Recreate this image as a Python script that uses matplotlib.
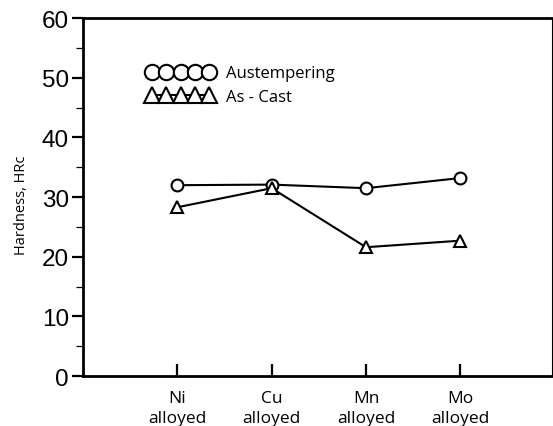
import matplotlib
matplotlib.use("Agg")
import matplotlib.pyplot as plt
from matplotlib.ticker import MultipleLocator

categories = ["Ni\nalloyed", "Cu\nalloyed", "Mn\nalloyed", "Mo\nalloyed"]
austempering = [32.0, 32.1, 31.5, 33.2]
as_cast = [28.3, 31.5, 21.6, 22.7]

fig = plt.figure(figsize=(5.53, 4.27), dpi=100)
ax = fig.add_axes([0.150, 0.117, 0.848, 0.838])

x = list(range(1, len(categories) + 1))
ax.plot(x, austempering, color="black", lw=1.5, marker="o", ms=8.5,
        mfc="white", mec="black", mew=1.5, label="Austempering")
ax.plot(x, as_cast, color="black", lw=1.5, marker="^", ms=9,
        mfc="white", mec="black", mew=1.5, label="As - Cast")

ax.set_xlim(0, 4.97)
ax.set_ylim(0, 60)
ax.set_xticks(x)
ax.set_xticklabels(categories, fontfamily="Open Sans", fontsize=12.5,
                   linespacing=1.35)
ax.yaxis.set_major_locator(MultipleLocator(10))
ax.yaxis.set_minor_locator(MultipleLocator(5))
for lab in ax.get_yticklabels():
    lab.set_fontfamily("Liberation Sans")
    lab.set_fontsize(17.5)

ax.tick_params(axis="x", direction="in", length=9, width=1.6, pad=10)
ax.tick_params(axis="y", which="major", direction="out", length=8, width=1.6, pad=2)
ax.tick_params(axis="y", which="minor", direction="out", length=5, width=0.9)

for s in ["left", "bottom", "top"]:
    ax.spines[s].set_linewidth(2)
ax.spines["right"].set_linewidth(0.8)

ax.set_ylabel("Hardness, HRc", fontfamily="Open Sans", fontsize=10.5)
ax.yaxis.set_label_coords(-0.115, 0.48)

leg = ax.legend(loc="upper left", bbox_to_anchor=(0.105, 0.91), frameon=False,
                numpoints=5, handlelength=4.0, handletextpad=0.7,
                markerscale=1.3, labelspacing=0.45,
                prop={"family": "Open Sans", "size": 12})

fig.savefig("out.png", dpi=100)
